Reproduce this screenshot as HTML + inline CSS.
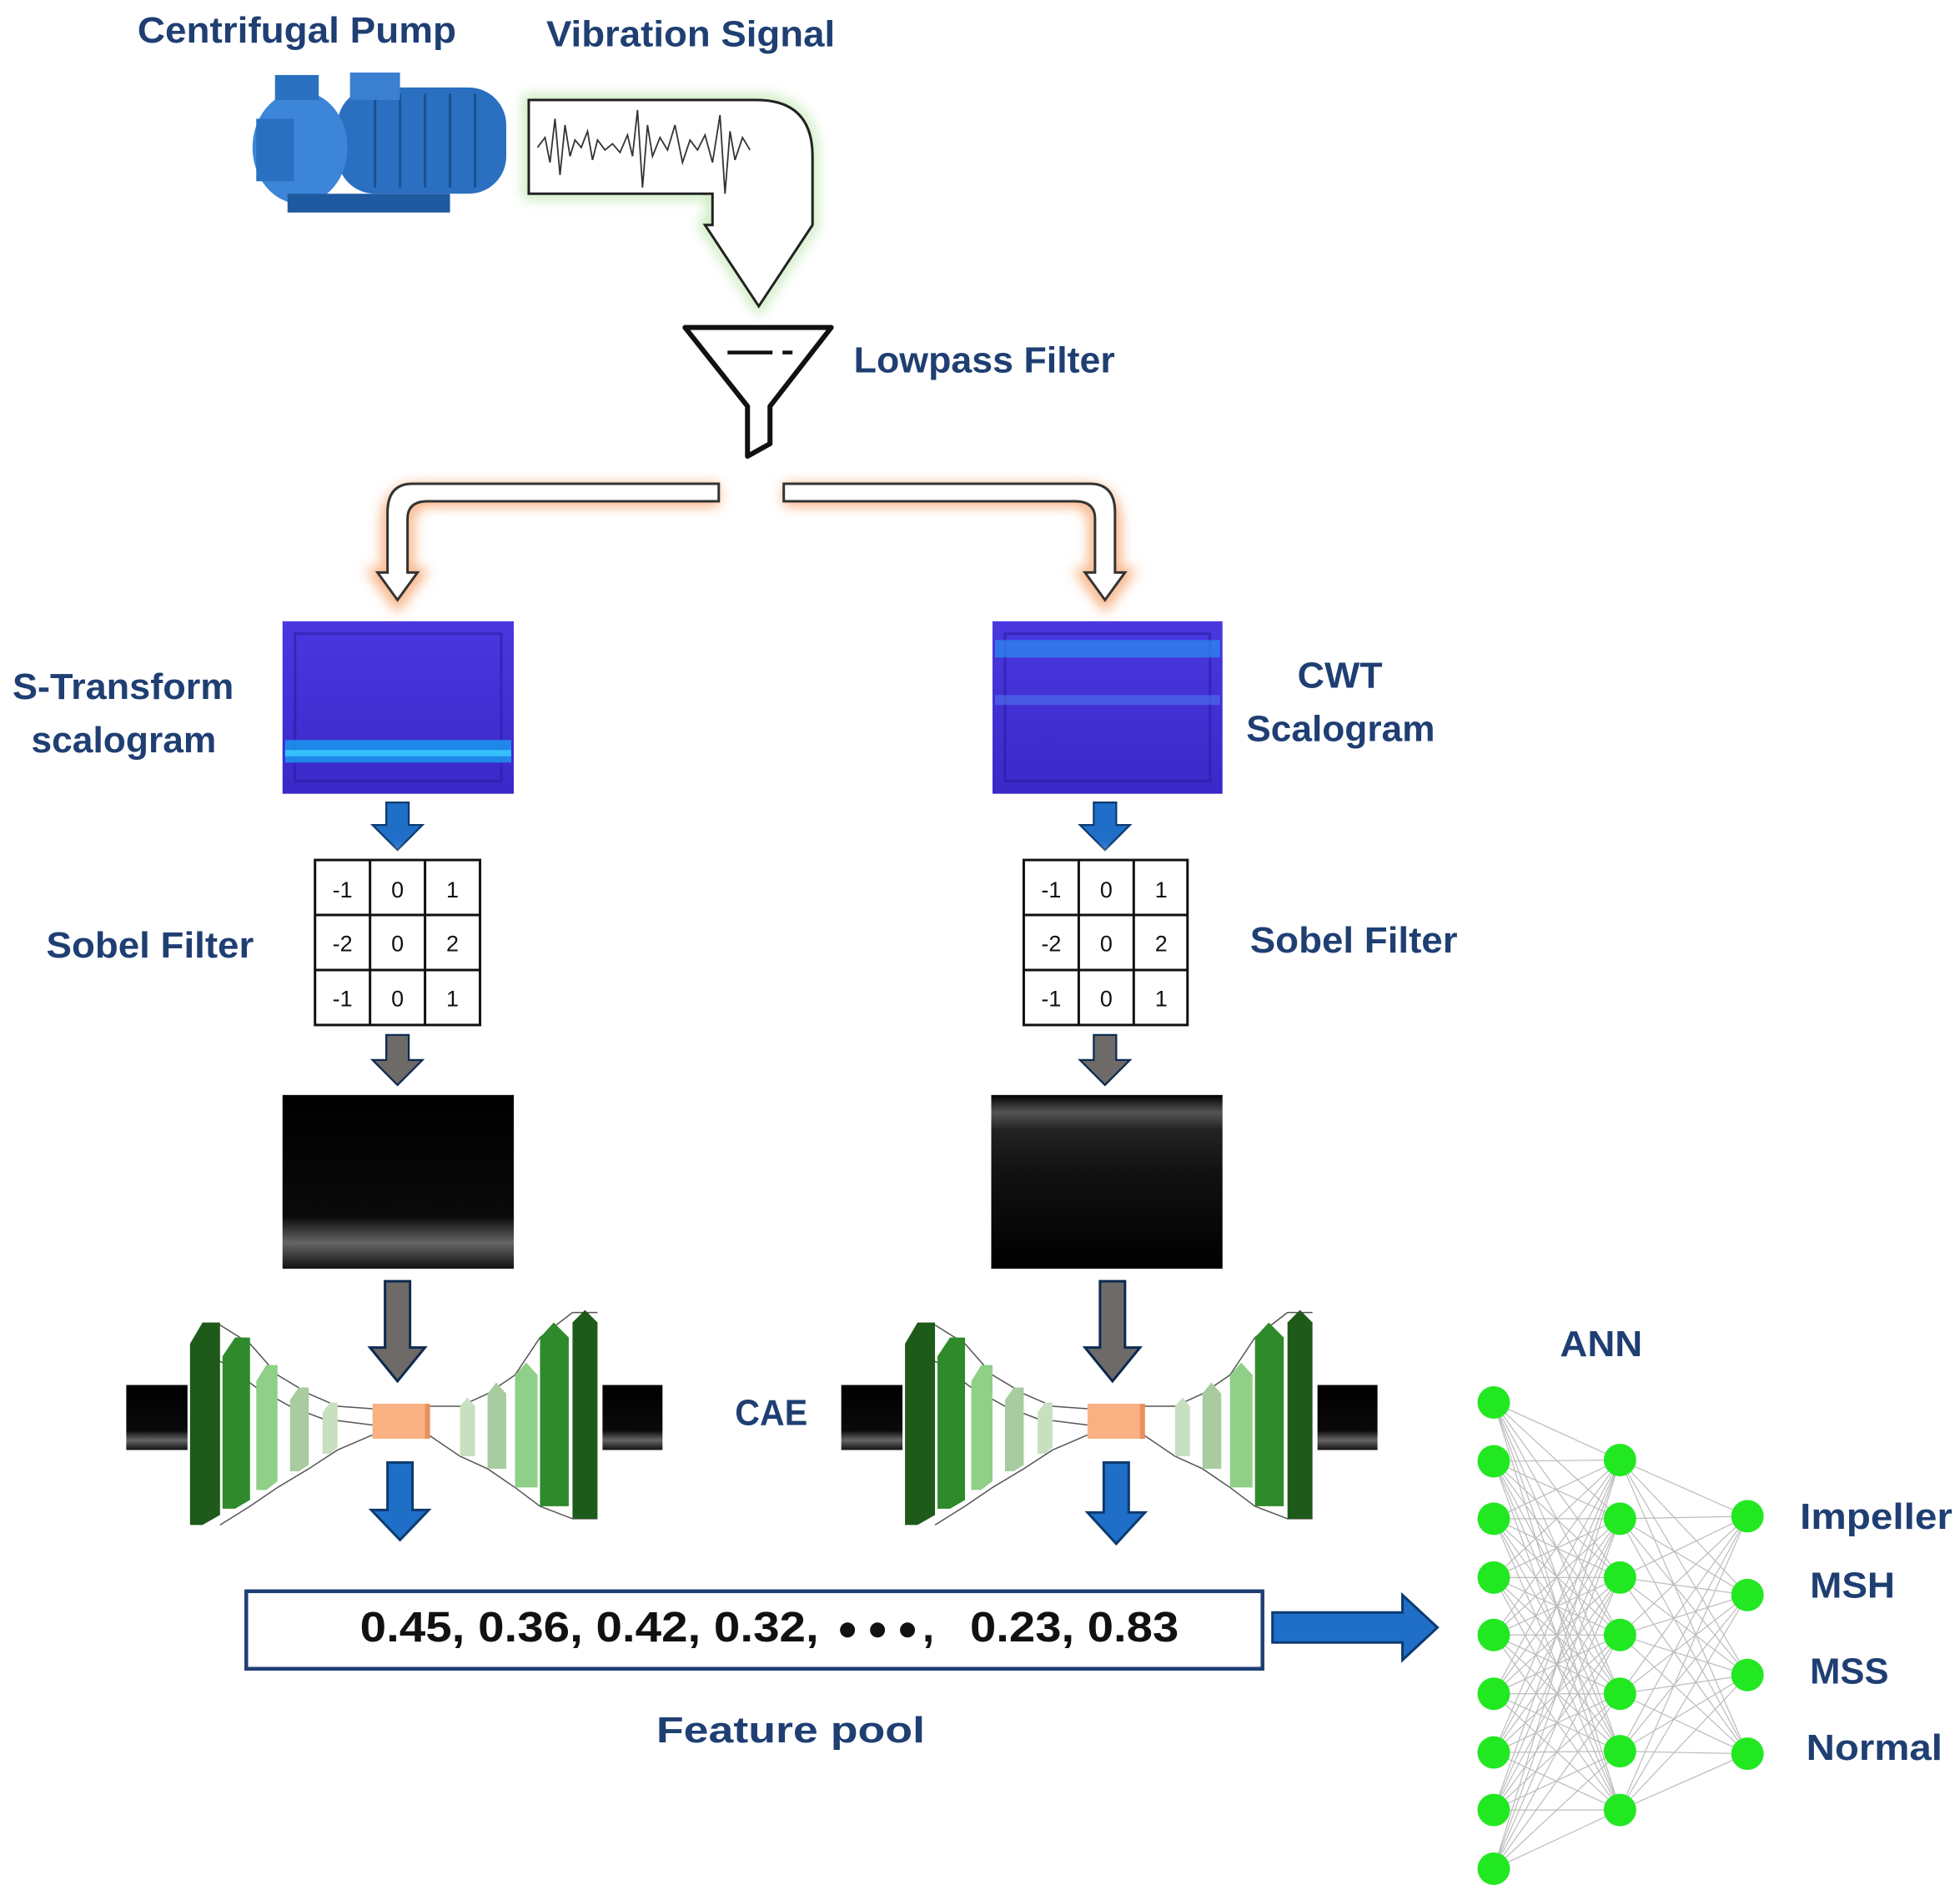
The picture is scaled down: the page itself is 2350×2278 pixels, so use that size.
<!DOCTYPE html>
<html><head><meta charset="utf-8"><style>
html,body{margin:0;padding:0;background:#fff;}
svg{display:block;}
text{font-family:"Liberation Sans",sans-serif;}
.lb{fill:#1f3f73;font-weight:bold;font-size:29px;}
</style></head><body>
<svg width="2350" height="2278" viewBox="0 0 1568 1520" xmlns="http://www.w3.org/2000/svg">
<defs>
<filter id="gg" x="-20%" y="-20%" width="140%" height="140%"><feGaussianBlur stdDeviation="5"/></filter>
<linearGradient id="sc" x1="0" y1="0" x2="0" y2="1"><stop offset="0" stop-color="#4a38e0"/><stop offset="1" stop-color="#3a28c8"/></linearGradient>
<linearGradient id="bk" x1="0" y1="0" x2="0" y2="1"><stop offset="0" stop-color="#000"/><stop offset="0.7" stop-color="#0a0a0a"/><stop offset="0.85" stop-color="#666"/><stop offset="1" stop-color="#111"/></linearGradient>
<linearGradient id="bk2" x1="0" y1="0" x2="0" y2="1"><stop offset="0" stop-color="#000"/><stop offset="0.1" stop-color="#555"/><stop offset="0.2" stop-color="#222"/><stop offset="0.45" stop-color="#111"/><stop offset="1" stop-color="#000"/></linearGradient>
<g id="cae">
 <g stroke="#555" stroke-width="1" fill="none">
  <path d="M176 1060 L200 1075 L222 1100 L247 1115 L270 1125 L298 1127"/>
  <path d="M176 1220 L200 1205 L222 1190 L247 1175 L270 1160 L298 1148"/>
  <path d="M152 1080 L178 1090 L205 1110 L232 1125 L258 1135 L298 1140"/>
  <path d="M343 1125 L368 1125 L390 1115 L412 1100 L432 1070 L458 1050 L478 1050"/>
  <path d="M343 1148 L368 1165 L390 1175 L412 1190 L432 1205 L458 1215 L478 1215"/>
 </g>
 <polygon points="152,1075 162,1058 176,1058 176,1212 162,1220 152,1220" fill="#1e5a1a"/>
 <polygon points="178,1085 188,1070 200,1070 200,1200 188,1207 178,1207" fill="#2e8a2a"/>
 <polygon points="205,1105 213,1092 222,1092 222,1185 213,1192 205,1192" fill="#8fcf88"/>
 <polygon points="232,1120 239,1110 247,1110 247,1172 239,1177 232,1177" fill="#a8cca0"/>
 <polygon points="258,1130 264,1122 270,1122 270,1158 264,1163 258,1163" fill="#c8e0c0"/>
 <rect x="298" y="1123" width="45" height="28" fill="#f9b184"/>
 <rect x="340" y="1123" width="4" height="28" fill="#e8905e"/>
 <polygon points="368,1125 374,1118 380,1125 380,1165 368,1165" fill="#c8e0c0"/>
 <polygon points="390,1115 397,1106 405,1115 405,1175 390,1175" fill="#a8cca0"/>
 <polygon points="412,1100 421,1090 430,1100 430,1190 412,1190" fill="#8fcf88"/>
 <polygon points="432,1070 443,1058 455,1070 455,1205 432,1205" fill="#2e8a2a"/>
 <polygon points="458,1058 468,1048 478,1058 478,1215 458,1215" fill="#1e5a1a"/>
 <rect x="101" y="1108" width="49" height="52" fill="url(#bk)"/>
 <rect x="482" y="1108" width="48" height="52" fill="url(#bk)"/>
</g>
</defs>

<text x="110" y="34" class="lb" textLength="255" lengthAdjust="spacingAndGlyphs">Centrifugal Pump</text>
<text x="437" y="37" class="lb" textLength="231" lengthAdjust="spacingAndGlyphs">Vibration Signal</text>

<g>
 <rect x="270" y="70" width="135" height="85" rx="30" fill="#2a6fc0"/>
 <g stroke="#1a4f90" stroke-width="2"><line x1="300" y1="75" x2="300" y2="150"/><line x1="320" y1="75" x2="320" y2="150"/><line x1="340" y1="75" x2="340" y2="150"/><line x1="360" y1="75" x2="360" y2="150"/><line x1="380" y1="75" x2="380" y2="150"/></g>
 <rect x="280" y="58" width="40" height="22" fill="#3a7fd0"/>
 <ellipse cx="240" cy="118" rx="38" ry="45" fill="#3d85d8"/>
 <rect x="205" y="95" width="30" height="50" fill="#2a70c0"/>
 <rect x="220" y="60" width="35" height="20" fill="#2a70c0"/>
 <rect x="230" y="155" width="130" height="15" fill="#1e5aa0"/>
</g>

<path d="M423 80 L605 80 Q650 80 650 125 L650 180 L607 245 L564 180 L570 180 L570 155 L423 155 Z" fill="#fff" stroke="#bfe8b0" stroke-width="8" filter="url(#gg)"/>
<path d="M423 80 L605 80 Q650 80 650 125 L650 180 L607 245 L564 180 L570 180 L570 155 L423 155 Z" fill="#fff" stroke="#222" stroke-width="2"/>
<path d="M430 118 L436 110 L440 130 L444 95 L448 140 L452 100 L456 125 L460 112 L465 118 L470 105 L474 128 L478 112 L484 120 L490 115 L496 122 L502 108 L506 125 L510 88 L514 150 L518 100 L522 125 L528 110 L534 120 L540 100 L546 130 L552 112 L558 120 L564 108 L570 130 L576 92 L580 155 L584 105 L588 128 L594 110 L600 120" fill="none" stroke="#333" stroke-width="1.2"/>

<path d="M548 262 L665 262 L616 325 L616 355 L598 365 L598 325 Z" fill="#fff" stroke="#111" stroke-width="4" stroke-linejoin="round"/>
<line x1="582" y1="282" x2="618" y2="282" stroke="#111" stroke-width="3"/>
<line x1="626" y1="282" x2="634" y2="282" stroke="#111" stroke-width="3"/>
<text x="683" y="298" class="lb" textLength="209" lengthAdjust="spacingAndGlyphs">Lowpass Filter</text>

<g filter="url(#gg)" stroke="#f8b080" stroke-width="10" fill="none">
 <path d="M575 392 L335 392 Q310 392 310 420 L310 460 L302 460 L318 482 L334 460 L326 460 L326 420 Q326 400 345 400 L575 400"/>
 <path d="M627 392 L867 392 Q892 392 892 420 L892 460 L900 460 L884 482 L868 460 L876 460 L876 420 Q876 400 857 400 L627 400"/>
</g>
<path d="M575 387 L330 387 Q310 387 310 410 L310 458 L302 458 L318 480 L334 458 L326 458 L326 415 Q326 401 342 401 L575 401 Z" fill="#fff" stroke="#333" stroke-width="2"/>
<path d="M627 387 L872 387 Q892 387 892 410 L892 458 L900 458 L884 480 L868 458 L876 458 L876 415 Q876 401 860 401 L627 401 Z" fill="#fff" stroke="#333" stroke-width="2"/>

<rect x="226" y="497" width="185" height="138" fill="url(#sc)"/>
<rect x="236" y="507" width="165" height="118" fill="none" stroke="#2a1ca0" stroke-width="2" opacity="0.6"/>
<rect x="228" y="592" width="181" height="18" fill="#1a9ef0" opacity="0.8"/>
<rect x="228" y="600" width="181" height="5" fill="#3ad0ff" opacity="0.8"/>
<rect x="794" y="497" width="184" height="138" fill="url(#sc)"/>
<rect x="804" y="507" width="164" height="118" fill="none" stroke="#2a1ca0" stroke-width="2" opacity="0.6"/>
<rect x="796" y="512" width="180" height="14" fill="#2a8ef0" opacity="0.7"/>
<rect x="796" y="556" width="180" height="8" fill="#4a6ae8" opacity="0.7"/>
<text x="10" y="559" class="lb" textLength="177" lengthAdjust="spacingAndGlyphs">S-Transform</text>
<text x="25" y="602" class="lb" textLength="148" lengthAdjust="spacingAndGlyphs">scalogram</text>
<text x="1038" y="550" class="lb" textLength="68" lengthAdjust="spacingAndGlyphs">CWT</text>
<text x="997" y="593" class="lb" textLength="151" lengthAdjust="spacingAndGlyphs">Scalogram</text>

<path d="M309 642 L327 642 L327 660 L338 660 L318 680 L298 660 L309 660 Z" fill="#1f6fc8" stroke="#0d3a70" stroke-width="1.5"/>
<path d="M875 642 L893 642 L893 660 L904 660 L884 680 L864 660 L875 660 Z" fill="#1f6fc8" stroke="#0d3a70" stroke-width="1.5"/>

<g font-size="18" text-anchor="middle" fill="#111">
 <rect x="246" y="682" width="144" height="144" fill="#fff" filter="url(#gg)" opacity="0.6"/>
 <rect x="252" y="688" width="132" height="132" fill="#fff" stroke="#111" stroke-width="2"/>
 <line x1="296" y1="688" x2="296" y2="820" stroke="#111" stroke-width="2"/><line x1="340" y1="688" x2="340" y2="820" stroke="#111" stroke-width="2"/>
 <line x1="252" y1="732" x2="384" y2="732" stroke="#111" stroke-width="2"/><line x1="252" y1="776" x2="384" y2="776" stroke="#111" stroke-width="2"/>
 <text x="274" y="718">-1</text><text x="318" y="718">0</text><text x="362" y="718">1</text>
 <text x="274" y="761">-2</text><text x="318" y="761">0</text><text x="362" y="761">2</text>
 <text x="274" y="805">-1</text><text x="318" y="805">0</text><text x="362" y="805">1</text>
 <rect x="813" y="682" width="144" height="144" fill="#fff" filter="url(#gg)" opacity="0.6"/>
 <rect x="819" y="688" width="131" height="132" fill="#fff" stroke="#111" stroke-width="2"/>
 <line x1="863" y1="688" x2="863" y2="820" stroke="#111" stroke-width="2"/><line x1="907" y1="688" x2="907" y2="820" stroke="#111" stroke-width="2"/>
 <line x1="819" y1="732" x2="950" y2="732" stroke="#111" stroke-width="2"/><line x1="819" y1="776" x2="950" y2="776" stroke="#111" stroke-width="2"/>
 <text x="841" y="718">-1</text><text x="885" y="718">0</text><text x="929" y="718">1</text>
 <text x="841" y="761">-2</text><text x="885" y="761">0</text><text x="929" y="761">2</text>
 <text x="841" y="805">-1</text><text x="885" y="805">0</text><text x="929" y="805">1</text>
</g>
<text x="37" y="766" class="lb" textLength="166" lengthAdjust="spacingAndGlyphs">Sobel Filter</text>
<text x="1000" y="762" class="lb" textLength="166" lengthAdjust="spacingAndGlyphs">Sobel Filter</text>

<path d="M309 828 L327 828 L327 848 L338 848 L318 868 L298 848 L309 848 Z" fill="#6d6a68" stroke="#0d2a50" stroke-width="1.5"/>
<path d="M875 828 L893 828 L893 848 L904 848 L884 868 L864 848 L875 848 Z" fill="#6d6a68" stroke="#0d2a50" stroke-width="1.5"/>

<rect x="226" y="876" width="185" height="139" fill="url(#bk)"/>
<rect x="793" y="876" width="185" height="139" fill="url(#bk2)"/>

<path d="M308 1025 L328 1025 L328 1078 L340 1078 L318 1105 L296 1078 L308 1078 Z" fill="#6d6a68" stroke="#0d2a50" stroke-width="2"/>
<path d="M880 1025 L900 1025 L900 1078 L912 1078 L890 1105 L868 1078 L880 1078 Z" fill="#6d6a68" stroke="#0d2a50" stroke-width="2"/>

<use href="#cae"/>
<use href="#cae" transform="translate(572,0)"/>
<text x="588" y="1140" class="lb" textLength="58" lengthAdjust="spacingAndGlyphs">CAE</text>

<path d="M310 1170 L330 1170 L330 1208 L343 1208 L320 1232 L297 1208 L310 1208 Z" fill="#1f6fc8" stroke="#0d3a70" stroke-width="2"/>
<path d="M883 1170 L903 1170 L903 1210 L916 1210 L893 1235 L870 1210 L883 1210 Z" fill="#1f6fc8" stroke="#0d3a70" stroke-width="2"/>

<rect x="197" y="1273" width="813" height="62" fill="#fff" stroke="#1f3f73" stroke-width="3"/>
<text x="288" y="1313" font-size="34" font-weight="bold" fill="#111" textLength="367" lengthAdjust="spacingAndGlyphs">0.45, 0.36, 0.42, 0.32,</text>
<circle cx="678" cy="1304" r="6" fill="#111"/><circle cx="702" cy="1304" r="6" fill="#111"/><circle cx="726" cy="1304" r="6" fill="#111"/>
<text x="738" y="1313" font-size="34" font-weight="bold" fill="#111">,</text>
<text x="776" y="1313" font-size="34" font-weight="bold" fill="#111" textLength="167" lengthAdjust="spacingAndGlyphs">0.23, 0.83</text>
<text x="525" y="1394" class="lb" font-size="34" textLength="215" lengthAdjust="spacingAndGlyphs">Feature pool</text>
<path d="M1018 1290 L1122 1290 L1122 1276 L1150 1302 L1122 1328 L1122 1314 L1018 1314 Z" fill="#1f6fc8" stroke="#0d3a70" stroke-width="2"/>

<text x="1248" y="1085" class="lb" textLength="66" lengthAdjust="spacingAndGlyphs">ANN</text>
<g stroke="#aaa" stroke-width="0.8" fill="none" opacity="0.8">
<path d="M1195 1122 L1296 1168 M1195 1122 L1296 1215 M1195 1122 L1296 1262 M1195 1122 L1296 1308 M1195 1122 L1296 1355 M1195 1122 L1296 1401 M1195 1122 L1296 1448
M1195 1169 L1296 1168 M1195 1169 L1296 1215 M1195 1169 L1296 1262 M1195 1169 L1296 1308 M1195 1169 L1296 1355 M1195 1169 L1296 1401 M1195 1169 L1296 1448
M1195 1215 L1296 1168 M1195 1215 L1296 1215 M1195 1215 L1296 1262 M1195 1215 L1296 1308 M1195 1215 L1296 1355 M1195 1215 L1296 1401 M1195 1215 L1296 1448
M1195 1262 L1296 1168 M1195 1262 L1296 1215 M1195 1262 L1296 1262 M1195 1262 L1296 1308 M1195 1262 L1296 1355 M1195 1262 L1296 1401 M1195 1262 L1296 1448
M1195 1308 L1296 1168 M1195 1308 L1296 1215 M1195 1308 L1296 1262 M1195 1308 L1296 1308 M1195 1308 L1296 1355 M1195 1308 L1296 1401 M1195 1308 L1296 1448
M1195 1355 L1296 1168 M1195 1355 L1296 1215 M1195 1355 L1296 1262 M1195 1355 L1296 1308 M1195 1355 L1296 1355 M1195 1355 L1296 1401 M1195 1355 L1296 1448
M1195 1402 L1296 1168 M1195 1402 L1296 1215 M1195 1402 L1296 1262 M1195 1402 L1296 1308 M1195 1402 L1296 1355 M1195 1402 L1296 1401 M1195 1402 L1296 1448
M1195 1448 L1296 1168 M1195 1448 L1296 1215 M1195 1448 L1296 1262 M1195 1448 L1296 1308 M1195 1448 L1296 1355 M1195 1448 L1296 1401 M1195 1448 L1296 1448
M1195 1495 L1296 1168 M1195 1495 L1296 1215 M1195 1495 L1296 1262 M1195 1495 L1296 1308 M1195 1495 L1296 1355 M1195 1495 L1296 1401 M1195 1495 L1296 1448
M1296 1168 L1398 1213 M1296 1168 L1398 1276 M1296 1168 L1398 1340 M1296 1168 L1398 1403
M1296 1215 L1398 1213 M1296 1215 L1398 1276 M1296 1215 L1398 1340 M1296 1215 L1398 1403
M1296 1262 L1398 1213 M1296 1262 L1398 1276 M1296 1262 L1398 1340 M1296 1262 L1398 1403
M1296 1308 L1398 1213 M1296 1308 L1398 1276 M1296 1308 L1398 1340 M1296 1308 L1398 1403
M1296 1355 L1398 1213 M1296 1355 L1398 1276 M1296 1355 L1398 1340 M1296 1355 L1398 1403
M1296 1401 L1398 1213 M1296 1401 L1398 1276 M1296 1401 L1398 1340 M1296 1401 L1398 1403
M1296 1448 L1398 1213 M1296 1448 L1398 1276 M1296 1448 L1398 1340 M1296 1448 L1398 1403"/>
</g>
<g fill="#22e822">
<circle cx="1195" cy="1122" r="13"/><circle cx="1195" cy="1169" r="13"/><circle cx="1195" cy="1215" r="13"/><circle cx="1195" cy="1262" r="13"/><circle cx="1195" cy="1308" r="13"/><circle cx="1195" cy="1355" r="13"/><circle cx="1195" cy="1402" r="13"/><circle cx="1195" cy="1448" r="13"/><circle cx="1195" cy="1495" r="13"/>
<circle cx="1296" cy="1168" r="13"/><circle cx="1296" cy="1215" r="13"/><circle cx="1296" cy="1262" r="13"/><circle cx="1296" cy="1308" r="13"/><circle cx="1296" cy="1355" r="13"/><circle cx="1296" cy="1401" r="13"/><circle cx="1296" cy="1448" r="13"/>
<circle cx="1398" cy="1213" r="13"/><circle cx="1398" cy="1276" r="13"/><circle cx="1398" cy="1340" r="13"/><circle cx="1398" cy="1403" r="13"/>
</g>
<text x="1440" y="1223" class="lb" textLength="122" lengthAdjust="spacingAndGlyphs">Impeller</text>
<text x="1448" y="1278" class="lb" textLength="68" lengthAdjust="spacingAndGlyphs">MSH</text>
<text x="1448" y="1347" class="lb" textLength="63" lengthAdjust="spacingAndGlyphs">MSS</text>
<text x="1445" y="1408" class="lb" textLength="109" lengthAdjust="spacingAndGlyphs">Normal</text>
</svg>
</body></html>
